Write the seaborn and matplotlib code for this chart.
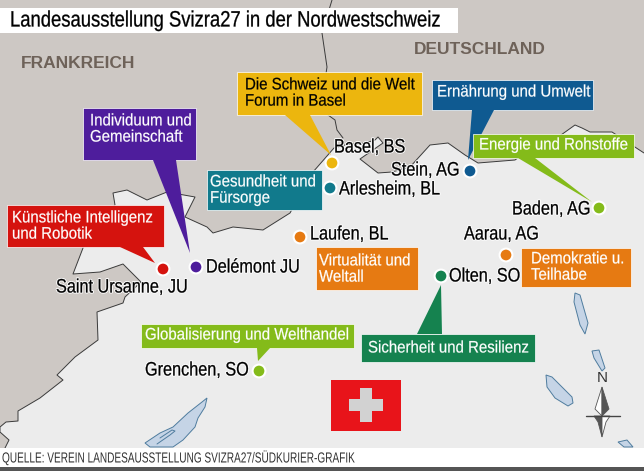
import matplotlib
matplotlib.use("Agg")
import matplotlib.pyplot as plt
import matplotlib.patheffects as pe
from matplotlib.patches import Polygon, Rectangle
from matplotlib.transforms import Affine2D
import pandas as pd
import seaborn as sns

# -----------------
# Map outlines (image pixels)
# -----------------
swiss_border = [(5, 448), (9, 440), (0, 432), (0, 427), (6, 422), (18, 421), (18, 411), (40, 398), (63, 380),
                (57, 375), (75, 357), (98, 340), (97, 312), (123, 303), (125, 297), (141, 282), (123, 264),
                (100, 272), (73, 274), (83, 248), (85, 235), (115, 205), (113, 193), (127, 190), (147, 200),
                (167, 192), (195, 197), (185, 217), (207, 227), (213, 233), (233, 227), (263, 230), (290, 213),
                (313, 172), (334, 148), (345, 145), (365, 143), (375, 140), (378, 137), (383, 143), (360, 159),
                (378, 173), (392, 172), (410, 167), (430, 145), (448, 143), (465, 155), (478, 163), (515, 160),
                (522, 155), (540, 150), (568, 130), (575, 125), (582, 128), (590, 132), (612, 132), (644, 153)]
fr_de_border = [(332, 0), (322, 33), (327, 67), (325, 80), (328, 115), (335, 120), (337, 130), (343, 138)]
lake_west = [(207, 398), (205, 407), (198, 418), (195, 427), (183, 440), (173, 447), (150, 447), (145, 443),
             (160, 433), (173, 427), (188, 413), (202, 402)]
lake_west_spit = [(157, 444), (170, 435), (175, 431), (172, 430), (160, 438)]
lake_a = [(575, 293), (580, 295), (588, 323), (585, 334), (580, 325), (574, 302)]
lake_b = [(592, 351), (599, 350), (605, 368), (602, 371), (594, 358)]
lake_c = [(546, 375), (552, 377), (572, 397), (573, 403), (568, 406), (555, 398), (547, 387)]
lake_d = [(618, 442), (627, 440), (633, 447), (624, 447)]
lakes = [lake_west, lake_a, lake_b, lake_c, lake_d]

# -----------------
# Sites
# -----------------
site_names = ["Basel, BS", "Arlesheim, BL", "Stein, AG", "Baden, AG", "Laufen, BL", "Aarau, AG", "Olten, SO",
              "Delémont JU", "Saint Ursanne, JU", "Grenchen, SO"]
site_x = [332, 330, 470, 599, 300, 506, 441, 196, 163, 259]
site_y = [163, 188, 171, 208, 237, 255, 276, 267, 269, 371]
site_colors = ["#ecb60e", "#117a8c", "#0f5a91", "#84bb1a", "#e67a12", "#e67a12", "#15824f", "#4e1d9c", "#d5130e",
               "#84bb1a"]
label_x = [334, 339, 391, 512, 310, 464, 449, 206, 56, 145]
label_y = [148, 190, 171, 210, 235, 235, 277, 268, 288, 371]

# -----------------
# Callout boxes: text, rectangle, pointer, colours
# -----------------
box_text = ["Die Schweiz und die Welt\nForum in Basel", "Individuum und\nGemeinschaft", "Gesundheit und\nFürsorge",
            "Künstliche Intelligenz\nund Robotik", "Ernährung und Umwelt", "Energie und Rohstoffe",
            "Virtualität und\nWeltall", "Demokratie u.\nTeilhabe", "Globalisierung und Welthandel",
            "Sicherheit und Resilienz"]
box_left = [237, 83, 207, 7, 432, 473, 316, 521, 141, 361]
box_right = [422, 196, 322, 164, 593, 634, 418, 631, 354, 535]
box_top = [72, 108, 170, 205, 80, 134, 247, 248, 324, 334]
box_bottom = [115, 160, 210, 247, 110, 158, 290, 287, 348, 362]
box_colors = ["#ecb60e", "#4e1d9c", "#117a8c", "#d5130e", "#0f5a91", "#84bb1a", "#e67a12", "#e67a12", "#84bb1a",
              "#15824f"]
box_text_colors = ["black"] + ["white"] * 9
text_x = [245, 90, 210, 12, 437, 479, 319, 531, 145, 368]
text_y = [93, 129, 190, 226, 92, 145, 269, 267, 335, 348]
pointers = [[(285, 115), (310, 115), (331, 155)], [(153, 160), (176, 160), (190, 253)], None,
            [(120, 247), (143, 247), (155, 263)], [(472, 110), (494, 110), (468, 160)],
            [(518, 158), (535, 158), (592, 202)], None, None, [(257, 348), (270, 348), (258, 361)],
            [(417, 334), (442, 334), (441, 285)]]

title = "Landesausstellung Svizra27 in der Nordwestschweiz"
source = "QUELLE: VEREIN LANDESAUSSTELLUNG SVIZRA27/SÜDKURIER-GRAFIK"


class Condensed(pe.AbstractPathEffect):
    # no narrow font installed, so squeeze the glyph paths sideways
    def __init__(self, squeeze, weight=0.0, halo=0.0):
        super().__init__()
        self.squeeze = squeeze
        self.weight = weight
        self.halo = halo

    def draw_path(self, renderer, gc, tpath, affine, rgbFace=None):
        squeezed = Affine2D().scale(self.squeeze, 1) + affine
        gc0 = renderer.new_gc()
        gc0.copy_properties(gc)
        if self.halo > 0:
            gc0.set_foreground((1, 1, 1, 1))
            gc0.set_linewidth(self.halo)
            renderer.draw_path(gc0, tpath, squeezed, (1, 1, 1, 1))
        gc0.set_foreground(rgbFace)
        gc0.set_linewidth(self.weight)
        renderer.draw_path(gc0, tpath, squeezed, rgbFace)
        gc0.restore()


sns.set_theme(style="white")
plt.rcParams["font.family"] = ["Liberation Sans", "DejaVu Sans"]

fig = plt.figure(figsize=(6.44, 4.71), dpi=100)
ax = fig.add_axes([0, 0, 1, 1])

# Land areas
ax.add_patch(Rectangle((0, 0), 644, 471, fc="#cdc8c4", ec="none", zorder=0))
outline = swiss_border + [(644, 448), (0, 448)]
ax.add_patch(Polygon(outline, closed=True, fc="#ececec", ec="none", zorder=1))
ax.plot(*zip(*swiss_border), color="#3a3a3a", lw=0.7, zorder=2)
ax.plot(*zip(*fr_de_border), color="#3a3a3a", lw=0.7, zorder=2)
for lake in lakes:
    ax.add_patch(Polygon(lake, closed=True, fc="#c5d4e6", ec="#4f7c9e", lw=0.7, zorder=2))
ax.plot(*zip(*lake_west_spit), color="#4f7c9e", lw=0.7, zorder=2)

# Header and footer strips
ax.add_patch(Rectangle((0, 8), 458, 25, fc="white", ec="none", zorder=3))
ax.add_patch(Rectangle((0, 448), 644, 19, fc="white", ec="none", zorder=3))
ax.add_patch(Rectangle((0, 467), 644, 4, fc="#555555", ec="none", zorder=3))
ax.text(10, 21, title, fontsize=16, color="black", va="center", zorder=4,
        path_effects=[Condensed(0.83, weight=0.2)])
ax.text(2, 458, source, fontsize=10.5, color="#333333", va="center", zorder=4,
        path_effects=[Condensed(0.69)])

# Country names
ax.text(21, 63, "FRANKREICH", fontsize=12.5, fontweight="bold", color="#6e6259", va="center")
ax.text(414, 49, "DEUTSCHLAND", fontsize=12.5, fontweight="bold", color="#6e6259", va="center")

# Callouts
for i, text in enumerate(box_text):
    w = box_right[i] - box_left[i]
    h = box_bottom[i] - box_top[i]
    ax.add_patch(Rectangle((box_left[i], box_top[i]), w, h, fc=box_colors[i], ec="white", lw=0.5, zorder=5))
    if pointers[i] is not None:
        ax.add_patch(Polygon(pointers[i], closed=True, fc=box_colors[i], ec="none", zorder=5))
    ax.text(text_x[i], text_y[i], text, fontsize=12, color=box_text_colors[i], va="center", linespacing=1.1,
            zorder=6, path_effects=[Condensed(0.9, weight=0.15)])

# Sites
sites = pd.DataFrame({"name": site_names, "x": site_x, "y": site_y})
sns.scatterplot(data=sites, x="x", y="y", hue="name", palette=site_colors, s=85, edgecolor="white", linewidth=1.5,
                legend=False, zorder=7, ax=ax)
for i, name in enumerate(site_names):
    ax.text(label_x[i], label_y[i], name, fontsize=14, color="black", va="center", zorder=8,
            path_effects=[Condensed(0.835, weight=0.2, halo=1.5)])

# Swiss flag
ax.add_patch(Rectangle((331, 380), 70, 51, fc="#e8141a", ec="none", zorder=4))
ax.add_patch(Rectangle((349, 399), 34, 12, fc="#d2d2d2", ec="none", zorder=5))
ax.add_patch(Rectangle((360, 388), 12, 34, fc="#d2d2d2", ec="none", zorder=5))

# Compass
ax.text(602, 378, "N", fontsize=11, color="#333333", ha="center", va="center", zorder=5)
ax.add_patch(Polygon([(602, 387), (595, 409), (602, 416)], closed=True, fc="white", ec="#555555", lw=0.6, zorder=5))
ax.add_patch(Polygon([(602, 387), (609, 409), (602, 416)], closed=True, fc="#555555", ec="#555555", lw=0.6, zorder=5))
ax.add_patch(Polygon([(602, 437), (598, 422), (594, 416), (602, 416)], closed=True, fc="#555555", ec="#555555", lw=0.6,
                     zorder=5))
ax.add_patch(Polygon([(602, 437), (606, 422), (610, 416), (602, 416)], closed=True, fc="white", ec="#555555", lw=0.6,
                     zorder=5))
ax.plot([586, 620], [416, 416], color="#444444", lw=1, zorder=5)

ax.set_xlim(0, 644)
ax.set_ylim(471, 0)
ax.axis("off")

fig.savefig("out.png", dpi=100)
